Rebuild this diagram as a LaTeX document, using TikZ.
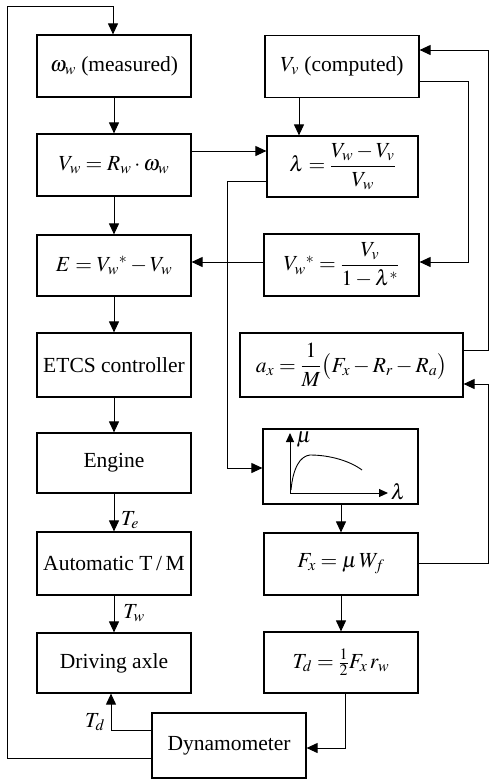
\documentclass[tikz,border=0pt]{standalone}
\usepackage{amsmath}
\usepackage{mathptmx}
\usepackage{fontspec}
\setmainfont{Liberation Serif}
\usetikzlibrary{arrows.meta,calc}
\begin{document}
\begin{tikzpicture}[x=1pt,y=-1pt,
  box/.style={draw,line width=1.2pt,minimum width=154pt,minimum height=62pt,inner sep=0pt,font=\fontsize{21.5}{24}\selectfont},
  conn/.style={line width=1pt,-{Triangle[length=11pt,width=10pt]}},
  small/.style={line width=1pt,-{Triangle[length=9pt,width=8pt]}},
  lab/.style={font=\fontsize{21.5}{24}\selectfont,inner sep=0pt}]
\useasboundingbox (0,0) rectangle (490,780);
% nodes
\node[box] (om) at (114,66) {$\omega_w$ (measured)};
\node[box] (vv) at (342,66.5) {$V_v$ (computed)};
\node[box] (vw) at (114,165) {$V_w = R_w\cdot\omega_w$};
\node[box,minimum width=151pt,minimum height=61pt] (lam) at (342.5,166.5) {$\lambda=\dfrac{V_w-V_v}{V_w}$};
\node[box,minimum height=61pt] (E) at (114,265.5) {$E=V_w{}^{*}-V_w$};
\node[box,minimum width=155pt] (vws) at (341.5,265) {$V_w{}^{*}=\dfrac{V_v}{1-\lambda^{*}}$};
\node[box,minimum height=64pt] (etcs) at (114,365) {ETCS controller};
\node[box,minimum width=223pt,minimum height=64pt] (ax) at (351.5,365) {$a_x=\dfrac{1}{M}\bigl(F_x-R_r-R_a\bigr)$};
\node[box,minimum height=60pt] (eng) at (114,463) {Engine};
\node[box,minimum width=155pt,minimum height=75pt] (mu) at (340.5,466.5) {};
\node[box,minimum height=63pt] (atm) at (114,563.5) {Automatic T\,/\,M};
\node[box] (fx) at (341,564) {$F_x=\mu\,W_f$};
\node[box,minimum height=60pt] (axle) at (114,663) {Driving axle};
\node[box,minimum height=61pt] (td) at (341,662.5) {$T_d=\tfrac{1}{2}F_x\,r_w$};
\node[box,minimum height=65pt] (dyn) at (229,745.5) {Dynamometer};
% left column
\draw[conn] (om.south) -- (vw.north);
\draw[conn] (vw.south) -- (E.north);
\draw[conn] (E.south) -- (etcs.north);
\draw[conn] (etcs.south) -- (eng.north);
\draw[conn] (eng.south) -- (atm.north);
\node[lab] (te) at (130,520) {$T_e$};
\draw[conn] (atm.south) -- (axle.north);
\node[lab] (tw) at (134,613) {$T_w$};
% right side
\draw[conn] (vv.south -| 299,0) -- (lam.north -| 299,0);
\draw[conn] (vw.east |- 0,151) -- (lam.west |- 0,151);
\draw[conn] (lam.west |- 0,181) -- (227,181) -- (227,468) -- (mu.west |- 0,468);
\draw[conn] (vv.east |- 0,81) -- (468,81) -- (468,262) -- (vws.east |- 0,262);
\draw[conn] (ax.east |- 0,350) -- (488,350) -- (488,50) -- (vv.east |- 0,50);
\draw[conn] (fx.east |- 0,563) -- (488,563) -- (488,384) -- (ax.east |- 0,384);
\draw[conn] (vws.west |- 0,262) -- (E.east |- 0,262);
\draw[conn] (mu.south -| 341,0) -- (fx.north -| 341,0);
\draw[conn] (fx.south -| 341,0) -- (td.north -| 341,0);
\draw[conn] (td.south -| 345,0) -- (345,748) -- (dyn.east |- 0,748);
% bottom
\draw[conn] (dyn.west |- 0,730) -- (111,730) -- (axle.south -| 111,0);
\node[lab] (tdl) at (95,722) {$T_d$};
\draw[conn] (dyn.west |- 0,758) -- (7,758) -- (7,6) -- (113,6) -- (om.north -| 113,0);
% mu-lambda plot
\draw[small] (290,493) -- (290,433);
\draw[small] (290,493) -- (388,493);
\node[lab] (mul) at (304,440) {$\mu$};
\node[lab] (laml) at (398,492) {$\lambda$};
\draw[line width=0.9pt] (291,490) .. controls (293,468) and (300,456) .. (310,455) .. controls (330,455) and (350,461) .. (362,470);
\end{tikzpicture}
\end{document}
